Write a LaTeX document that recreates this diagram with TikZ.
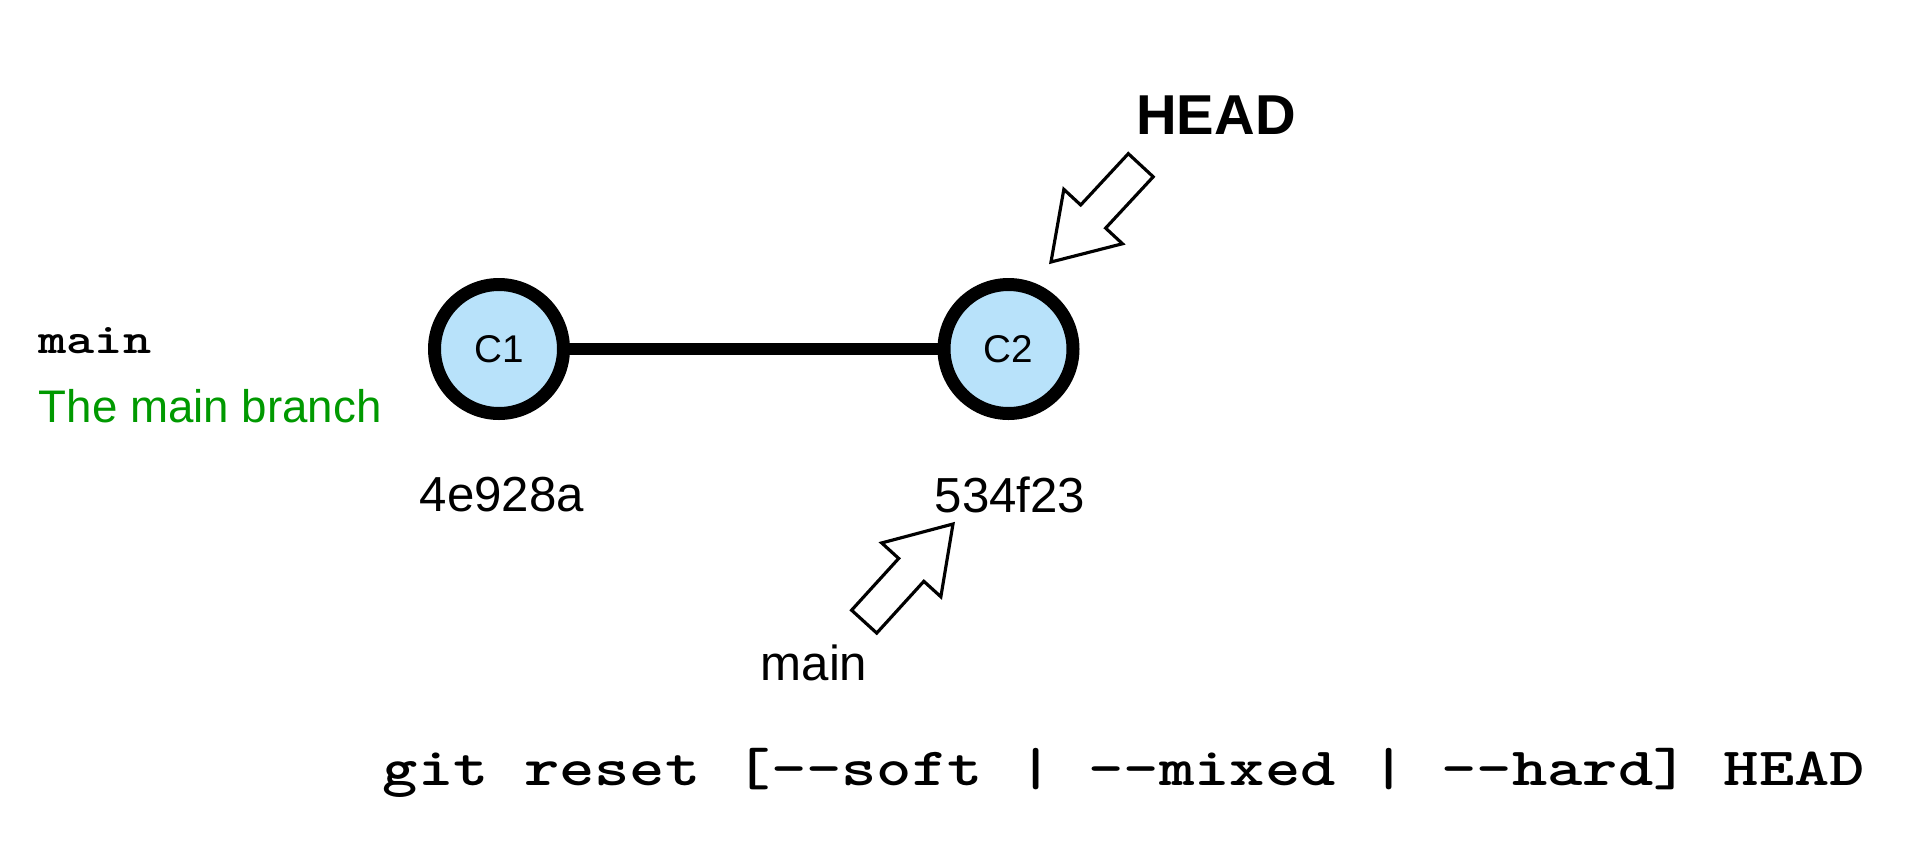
\documentclass[tikz,border=0pt]{standalone}
\usepackage{fontspec}
\setmainfont{Liberation Sans}
\usepackage{graphicx}
\usetikzlibrary{calc}
\definecolor{commitblue}{RGB}{184,226,250}
\definecolor{notegreen}{RGB}{0,153,0}
\def\blockptr[#1](#2)(#3){\draw[#1,shift={(#2)},rotate=#3] (0,0) -- (-0.62,0.40) -- (-0.62,0.17) -- (-1.32,0.17) -- (-1.32,-0.17) -- (-0.62,-0.17) -- (-0.62,-0.40) -- cycle;}
\newcommand\codetext[2]{\scalebox{1.25}[1]{\fontsize{#1}{#1}\selectfont\ttfamily\bfseries #2}}
\begin{document}
\begin{tikzpicture}[
  commit/.style={circle, draw=black, line width=0.13cm, fill=commitblue, minimum size=1.29cm, inner sep=0pt, font=\fontsize{11}{11}\selectfont},
  branch/.style={line width=0.12cm},
  hash/.style={font=\fontsize{14}{14}\selectfont},
  pointer/.style={draw=black, fill=white, line width=0.9pt, line join=miter}
]
			%%%%% START %%%%%
			\useasboundingbox (0, 0) rectangle (19.21, -8.57);
			
			\node[commit] (c1) at (4.99, -3.49) {C1};
			\node[commit] (c2) at (10.085, -3.49) {C2};
			\draw[branch] (c1) -- (c2);
			
			\node[hash] (h1) at (5.02, -4.945) {4e928a};
			\node[hash] (h2) at (10.10, -4.945) {534f23};
			
			\node[anchor=base west, inner sep=0pt] (mainref) at (0.38, -3.53) {\codetext{12.2pt}{main}};
			\node[anchor=base west, inner sep=0pt, text=notegreen, font=\fontsize{13}{13}\selectfont] (maindesc) at (0.38, -4.22) {The main branch};
			
			\node[font=\fontsize{16}{16}\selectfont\bfseries] (head) at (12.16, -1.15) {HEAD};
			\coordinate (headtip) at (10.51, -2.62);
			\blockptr[pointer](headtip)(-132.85);
			
			\node[anchor=base, font=\fontsize{14}{14}\selectfont] (mainlbl) at (8.14, -6.80) {main};
			\coordinate (maintip) at (9.53, -5.24);
			\blockptr[pointer](maintip)(47.7);
			
			\node[anchor=base, inner sep=0pt] (cmd) at (11.24, -7.85) {\codetext{15.3pt}{git reset [-{}-soft | -{}-mixed | -{}-hard] HEAD}};
			%%%%% END %%%%%
\end{tikzpicture}
\end{document}
